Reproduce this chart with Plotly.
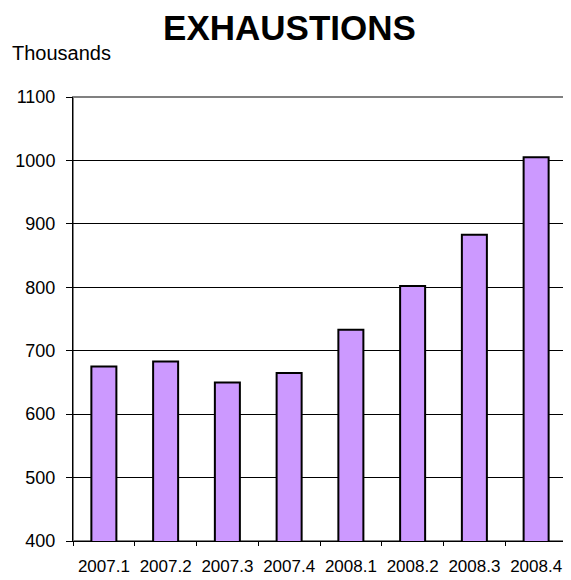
import plotly.graph_objects as go

quarters = ["2007.1", "2007.2", "2007.3", "2007.4", "2008.1", "2008.2", "2008.3", "2008.4"]
exhaustions = [675, 683, 650, 665, 733, 802, 883, 1005]
y_ticks = [400, 500, 600, 700, 800, 900, 1000, 1100]

FONT = "Arial, Liberation Sans, sans-serif"

fig = go.Figure()
fig.add_trace(go.Bar(
    x=quarters, y=exhaustions,
    marker=dict(color="#CC99FF", line=dict(color="black", width=2)),
))

# the page body adds an 8px offset, so the figure is sized to fill the rest
fig.update_layout(
    width=563, height=572,
    margin=dict(l=65, r=4, t=89, b=36),
    paper_bgcolor="white", plot_bgcolor="white",
    font=dict(family=FONT, color="black", size=18),
    bargap=0.595,
    showlegend=False,
    title=dict(text="<b>EXHAUSTIONS</b>", x=0.5, xanchor="center", y=0.965, yanchor="middle",
               font=dict(size=35, family=FONT, color="black")),
    annotations=[dict(text="Thousands", xref="paper", yref="paper", x=-0.1275, y=1.098,
                      xanchor="left", yanchor="middle", showarrow=False,
                      font=dict(size=20, family=FONT))],
    shapes=[dict(type="rect", xref="paper", yref="paper", x0=0, x1=1, y0=0, y1=1,
                 line=dict(color="#808080", width=2), layer="below")],
)
fig.update_xaxes(
    type="category", tickson="boundaries", ticks="outside", ticklen=4, tickcolor="black",
    showline=True, linecolor="black", linewidth=1, showgrid=False,
    tickfont=dict(size=17), ticklabelstandoff=10,
)
fig.update_yaxes(
    range=[400, 1100], tickvals=y_ticks, ticks="outside", ticklen=6, tickcolor="black",
    showline=True, linecolor="black", linewidth=1,
    showgrid=True, gridcolor="black", gridwidth=1, zeroline=False,
    tickfont=dict(size=18), ticklabelstandoff=7,
)

fig.write_html("out.html")
